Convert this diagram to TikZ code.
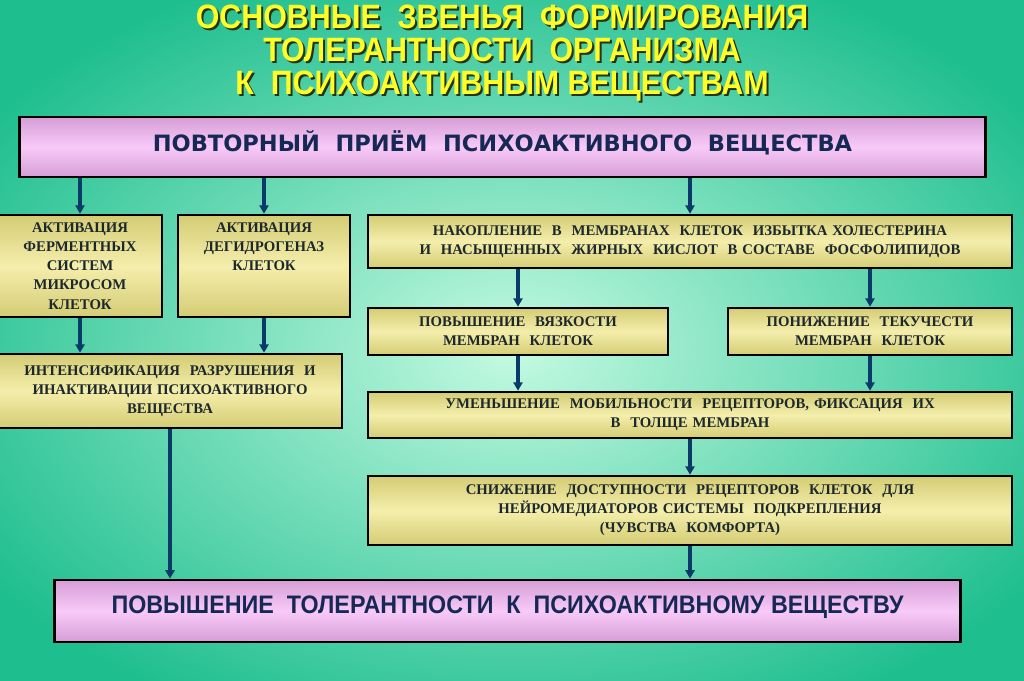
\documentclass[tikz,border=0pt]{standalone}
\usepackage{fontspec}
\setmainfont{Liberation Serif}
\newfontfamily\titlefont[FakeStretch=0.9]{Liberation Sans}
\newfontfamily\headfont{DejaVu Sans}
\newfontfamily\footfont[FakeStretch=0.92]{Liberation Sans}
\usetikzlibrary{arrows.meta,positioning,calc}
\definecolor{bggreen}{RGB}{30,190,142}
\definecolor{bgmint}{RGB}{196,250,226}
\definecolor{titleyellow}{RGB}{255,255,40}
\definecolor{titleshade}{RGB}{40,50,20}
\definecolor{pinkedge}{RGB}{214,158,214}
\definecolor{pinkmid}{RGB}{248,202,248}
\definecolor{yellowedge}{RGB}{212,204,116}
\definecolor{yellowmid}{RGB}{244,238,172}
\definecolor{arrowblue}{RGB}{12,58,104}
\definecolor{inkblue}{RGB}{22,40,84}
\definecolor{inkdark}{RGB}{28,40,44}

\begin{document}
\begin{tikzpicture}[x=0.025cm,y=-0.025cm,
  pinkbox/.style={draw=black,line width=2pt,top color=pinkedge,bottom color=pinkedge,middle color=pinkmid,inner sep=0pt,text=inkblue},
  yellowbox/.style={draw=black,line width=1.8pt,top color=yellowedge,bottom color=yellowedge,middle color=yellowmid,inner sep=0pt,align=center,text=inkdark,
    font=\bfseries\fontsize{10.5}{13.6}\selectfont},
  flow/.style={draw=arrowblue,line width=2.2pt,-{Triangle[length=6pt,width=6.5pt]}},
  titletext/.style={align=center,font=\titlefont\bfseries\fontsize{24}{23.2}\selectfont}]
% background
\useasboundingbox (0,0) rectangle (1024,681);
\shade[inner color=bgmint,outer color=bggreen] (-120,-60) rectangle (1144,760);

% title
\node[titletext,text=titleshade] (titleshadow) at (504,55) {ОСНОВНЫЕ\ \ ЗВЕНЬЯ\ \ ФОРМИРОВАНИЯ\\ТОЛЕРАНТНОСТИ\ \ ОРГАНИЗМА\\К\ \ ПСИХОАКТИВНЫМ ВЕЩЕСТВАМ};
\node[titletext,text=titleyellow] (title) at (502,53) {ОСНОВНЫЕ\ \ ЗВЕНЬЯ\ \ ФОРМИРОВАНИЯ\\ТОЛЕРАНТНОСТИ\ \ ОРГАНИЗМА\\К\ \ ПСИХОАКТИВНЫМ ВЕЩЕСТВАМ};

% boxes
\node[pinkbox,minimum width=24.125cm,minimum height=1.5cm,font=\headfont\bfseries\fontsize{16}{18}\selectfont] (intake) at (502.5,147) {\raisebox{0.3cm}{ПОВТОРНЫЙ\ \ ПРИЁМ\ \ ПСИХОАКТИВНОГО\ \ ВЕЩЕСТВА}};
\node[yellowbox,text width=4.1cm,minimum height=2.55cm] (enzymes) at (80,266) {АКТИВАЦИЯ\\ФЕРМЕНТНЫХ\\СИСТЕМ\\МИКРОСОМ\\КЛЕТОК};
\node[yellowbox,text width=4.3cm,minimum height=2.55cm] (dehydro) at (264,266) {АКТИВАЦИЯ\\ДЕГИДРОГЕНАЗ\\КЛЕТОК\\~\\~};
\node[yellowbox,text width=16.1cm,minimum height=1.325cm] (cholest) at (690,241.5) {НАКОПЛЕНИЕ\ \ В\ \ МЕМБРАНАХ\ \ КЛЕТОК\ \ ИЗБЫТКА ХОЛЕСТЕРИНА\\И\ \ НАСЫЩЕННЫХ\ \ ЖИРНЫХ\ \ КИСЛОТ\ \ В СОСТАВЕ\ \ ФОСФОЛИПИДОВ};
\node[yellowbox,text width=8.6cm,minimum height=1.85cm] (breakdown) at (170,391) {ИНТЕНСИФИКАЦИЯ\ \ РАЗРУШЕНИЯ\ \ И\\ИНАКТИВАЦИИ ПСИХОАКТИВНОГО\\ВЕЩЕСТВА};
\node[yellowbox,text width=7.5cm,minimum height=1.175cm] (viscous) at (518,331.5) {ПОВЫШЕНИЕ\ \ ВЯЗКОСТИ\\МЕМБРАН\ \ КЛЕТОК};
\node[yellowbox,text width=7.1cm,minimum height=1.175cm] (fluid) at (870,331.5) {ПОНИЖЕНИЕ\ \ ТЕКУЧЕСТИ\\МЕМБРАН\ \ КЛЕТОК};
\node[yellowbox,text width=16.1cm,minimum height=1.15cm] (mobility) at (690,415) {УМЕНЬШЕНИЕ\ \ МОБИЛЬНОСТИ\ \ РЕЦЕПТОРОВ, ФИКСАЦИЯ\ \ ИХ\\В\ \ ТОЛЩЕ МЕМБРАН};
\node[yellowbox,text width=16.1cm,minimum height=1.725cm] (access) at (690,510.5) {СНИЖЕНИЕ\ \ ДОСТУПНОСТИ\ \ РЕЦЕПТОРОВ\ \ КЛЕТОК\ \ ДЛЯ\\НЕЙРОМЕДИАТОРОВ СИСТЕМЫ\ \ ПОДКРЕПЛЕНИЯ\\(ЧУВСТВА\ \ КОМФОРТА)};
\node[pinkbox,minimum width=22.625cm,minimum height=1.55cm,font=\footfont\bfseries\fontsize{18}{20}\selectfont] (tolerance) at (507.5,611) {\raisebox{0.3cm}{ПОВЫШЕНИЕ\ \ ТОЛЕРАНТНОСТИ\ \ К\ \ ПСИХОАКТИВНОМУ ВЕЩЕСТВУ}};

% arrows
\draw[flow] (intake.south -| enzymes.north) -- (enzymes.north);
\draw[flow] (intake.south -| dehydro.north) -- (dehydro.north);
\draw[flow] (intake.south -| cholest.north) -- (cholest.north);
\draw[flow] (enzymes.south) -- (enzymes.south |- breakdown.north);
\draw[flow] (dehydro.south) -- (dehydro.south |- breakdown.north);
\draw[flow] (cholest.south -| viscous.north) -- (viscous.north);
\draw[flow] (cholest.south -| fluid.north) -- (fluid.north);
\draw[flow] (viscous.south) -- (viscous.south |- mobility.north);
\draw[flow] (fluid.south) -- (fluid.south |- mobility.north);
\draw[flow] (mobility.south) -- (access.north);
\draw[flow] (access.south) -- (access.south |- tolerance.north);
\draw[flow] (breakdown.south) -- (breakdown.south |- tolerance.north);
\end{tikzpicture}
\end{document}
